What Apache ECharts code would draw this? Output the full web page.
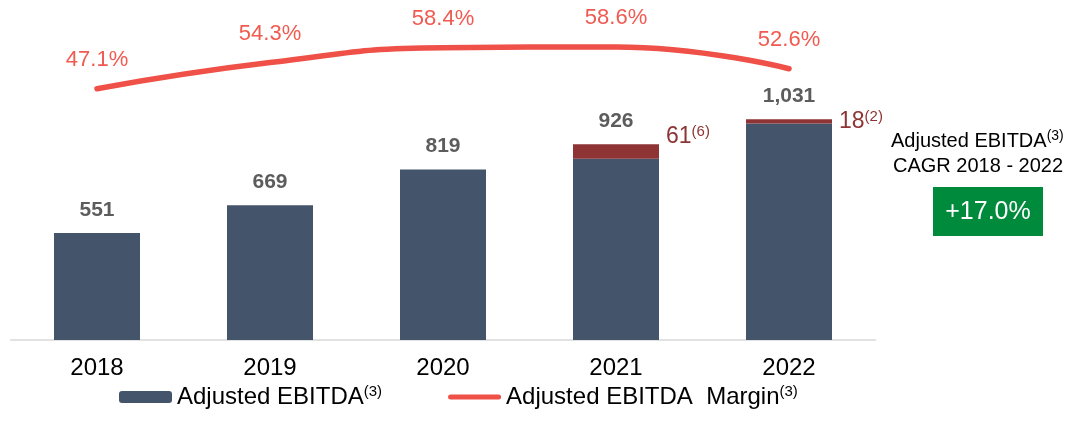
<!DOCTYPE html>
<html>
<head>
<meta charset="utf-8">
<script src="https://cdn.jsdelivr.net/npm/echarts@6/dist/echarts.min.js"></script>
<style>
  html, body { margin: 0; padding: 0; background: #fff; }
  #chart { width: 1075px; height: 422px; }
</style>
</head>
<body>
<div id="chart"></div>
<script>
// chart values
var years = ['2018', '2019', '2020', '2021', '2022'];
var ebitdaBase = [551, 669, 819, 865, 1013];
var ebitdaExtra = [null, null, null, 61, 18];
var extraNotes = ['', '', '', '(6)', '(2)'];
var ebitdaTotal = [551, 669, 819, 926, 1031];
var marginPct = [47.1, 54.3, 58.4, 58.6, 52.6];
var cagrText = '+17.0%';

var BLUE = '#44546A';
var DARKRED = '#8E3434';
var CORAL = '#EF5047';
var NARROW = "'Liberation Sans Narrow', 'Arial Narrow', 'Liberation Sans', Arial, sans-serif";
var SANS = "'Liberation Sans', Arial, sans-serif";

var myChart = echarts.init(document.getElementById('chart'));

var option = {
    animation: false,
    backgroundColor: '#fff',
    grid: { left: 10.5, right: 199.5, top: 20, bottom: 82 },
    xAxis: {
        type: 'category',
        data: years,
        axisTick: { show: false },
        axisLine: { onZero: false, lineStyle: { color: '#D9D9D9', width: 1.5 } },
        axisLabel: { fontSize: 24, color: '#000', fontFamily: SANS, margin: 16 }
    },
    yAxis: [
        { type: 'value', min: 100, max: 1450, show: false, splitLine: { show: false } },
        { type: 'value', min: -22, max: 66, show: false, splitLine: { show: false } }
    ],
    legend: {
        data: [
            { name: 'Adjusted EBITDA' },
            {
                name: 'Adjusted EBITDA  Margin',
                icon: 'path://M2.5,0 L50.5,0 A2.5,2.5 0 0 1 50.5,5 L2.5,5 A2.5,2.5 0 0 1 2.5,0 Z',
                itemStyle: { color: CORAL }
            }
        ],
        left: 119,
        top: 384,
        padding: 0,
        itemGap: 66,
        itemWidth: 53,
        itemHeight: 12,
        formatter: function (name) {
            return '{m|' + name + '}{s|(3)}';
        },
        textStyle: {
            rich: {
                m: { fontSize: 24, color: '#000', fontFamily: SANS, lineHeight: 26, verticalAlign: 'middle' },
                s: { fontSize: 15, color: '#000', fontFamily: SANS, lineHeight: 15, verticalAlign: 'top', padding: [0, 0, 36, 0] }
            }
        }
    },
    series: [
        {
            name: 'Adjusted EBITDA',
            type: 'bar',
            stack: 'ebitda',
            barWidth: 86,
            itemStyle: { color: BLUE },
            data: ebitdaBase
        },
        {
            name: 'Extra',
            type: 'bar',
            stack: 'ebitda',
            barWidth: 86,
            itemStyle: { color: DARKRED },
            label: {
                show: true,
                position: 'right',
                distance: 7,
                formatter: function (p) {
                    return '{m|' + p.value + '}{s|' + extraNotes[p.dataIndex] + '}';
                },
                rich: {
                    m: { fontSize: 23, color: DARKRED, fontFamily: NARROW, lineHeight: 24 },
                    s: { fontSize: 15, color: DARKRED, fontFamily: NARROW, lineHeight: 15, verticalAlign: 'top' }
                }
            },
            data: ebitdaExtra.map(function (v, i) {
                if (i === 3) return { value: v, label: { offset: [0, -15] } };
                return v;
            })
        },
        {
            name: 'Total',
            type: 'scatter',
            symbolSize: 1,
            itemStyle: { color: 'rgba(0,0,0,0)' },
            label: {
                show: true,
                position: 'top',
                distance: 12,
                fontSize: 21,
                fontWeight: 'bold',
                color: '#333333',
                fontFamily: SANS,
                formatter: function (p) {
                    return p.value.toLocaleString('en-US');
                }
            },
            data: ebitdaTotal
        },
        {
            name: 'Adjusted EBITDA  Margin',
            type: 'line',
            yAxisIndex: 1,
            smooth: true,
            showSymbol: true,
            symbol: 'circle',
            symbolSize: 0.1,
            itemStyle: { color: CORAL },
            lineStyle: { color: CORAL, width: 5.5, cap: 'round' },
            label: {
                show: true,
                position: 'top',
                distance: 18,
                fontSize: 22,
                color: '#F05A50',
                fontFamily: NARROW,
                formatter: function (p) {
                    return p.value.toFixed(1) + '%';
                }
            },
            data: marginPct
        }
    ],
    graphic: [
        {
            type: 'text',
            left: 891,
            top: 129,
            style: {
                text: '{m|Adjusted EBITDA}{s|(3)}',
                rich: {
                    m: { fontSize: 20, fill: '#000', fontFamily: SANS, lineHeight: 24 },
                    s: { fontSize: 14, fill: '#000', fontFamily: SANS, lineHeight: 14, verticalAlign: 'top' }
                }
            }
        },
        {
            type: 'text',
            left: 893,
            top: 156,
            style: { text: 'CAGR 2018 - 2022', fontSize: 20, fill: '#000', fontFamily: SANS }
        },
        {
            type: 'group',
            left: 933,
            top: 187,
            children: [
                { type: 'rect', shape: { x: 0, y: 0, width: 110, height: 49 }, style: { fill: '#008A3C' } },
                {
                    type: 'text',
                    x: 55, y: 25,
                    style: {
                        text: cagrText, fontSize: 25, fill: '#fff', fontFamily: SANS,
                        align: 'center', verticalAlign: 'middle'
                    }
                }
            ]
        }
    ]
};

myChart.setOption(option);
</script>
</body>
</html>
